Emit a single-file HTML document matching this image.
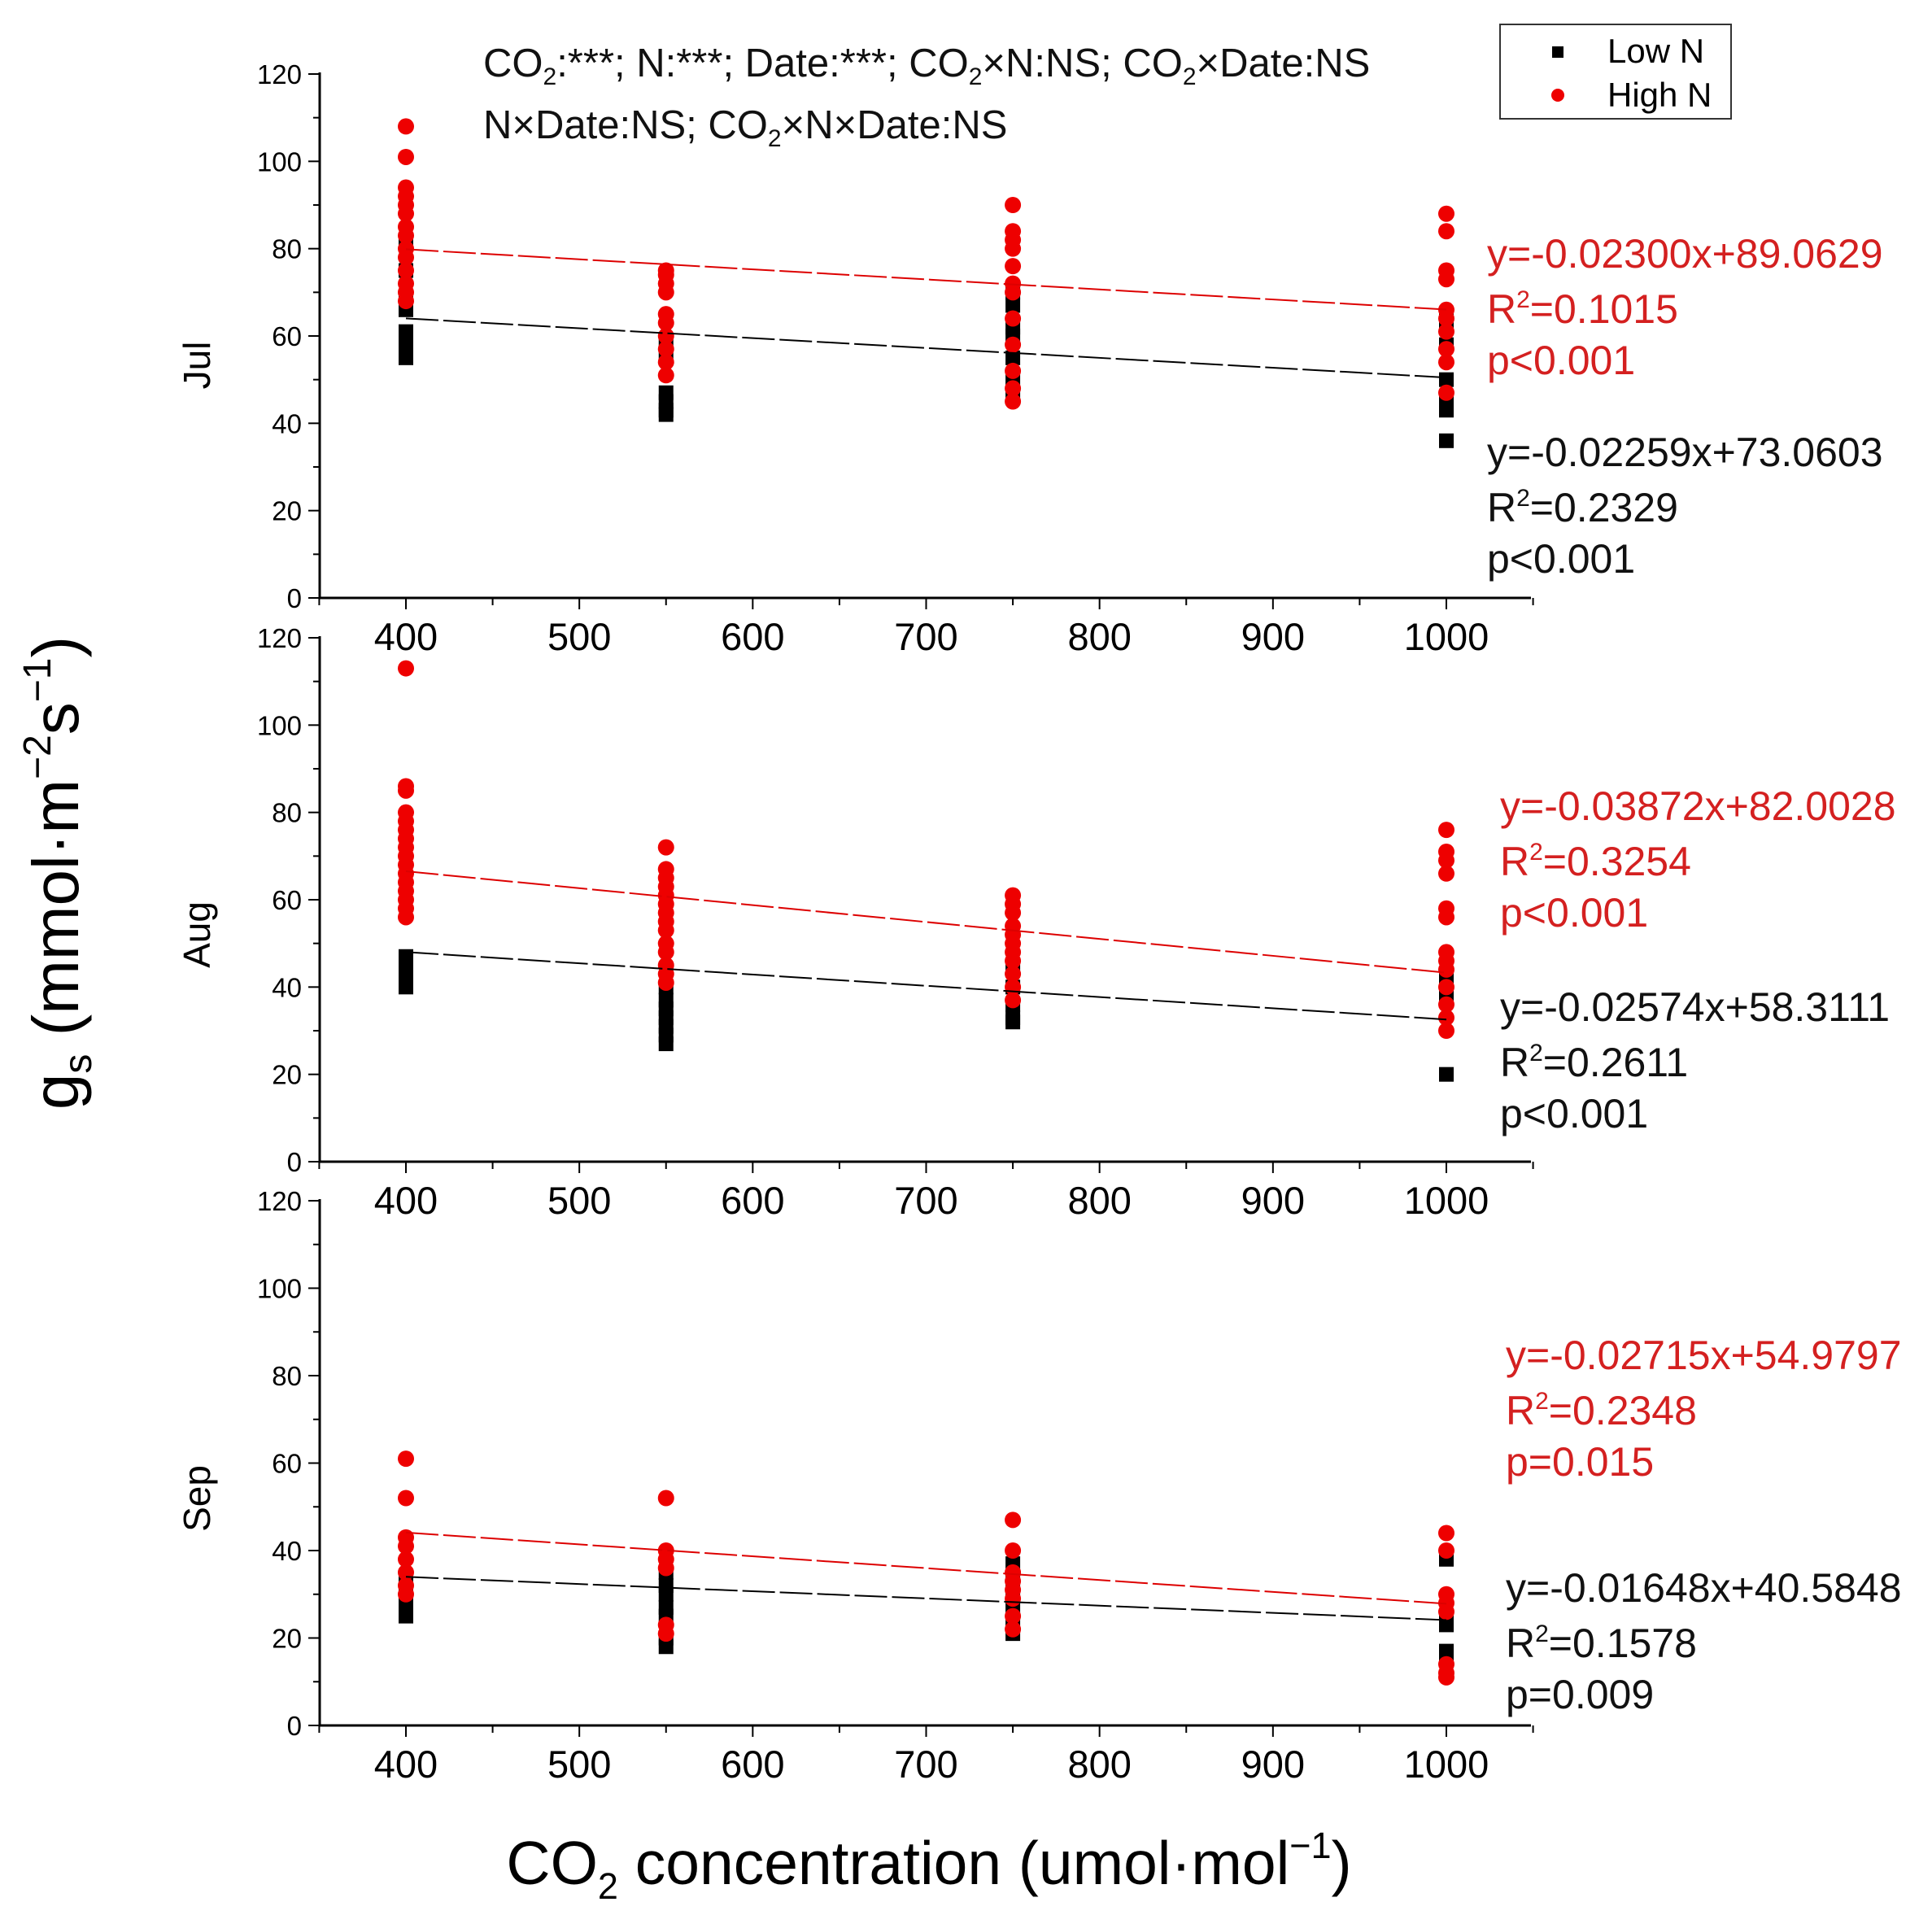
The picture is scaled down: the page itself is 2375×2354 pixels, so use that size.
<!DOCTYPE html>
<html><head><meta charset="utf-8"><style>body{margin:0;background:#fff}svg{display:block}text{font-family:"Liberation Sans",sans-serif}</style></head>
<body>
<svg id="c" width="2375" height="2354" viewBox="0 0 2375 2354" xmlns="http://www.w3.org/2000/svg">
<g font-size="49" fill="#111">
<text x="594" y="94">CO<tspan font-size="30" dy="10">2</tspan><tspan dy="-10">:***; N:***; Date:***; CO</tspan><tspan font-size="30" dy="10">2</tspan><tspan dy="-10">×N:NS; CO</tspan><tspan font-size="30" dy="10">2</tspan><tspan dy="-10">×Date:NS</tspan></text>
<text x="594" y="170">N×Date:NS; CO<tspan font-size="30" dy="10">2</tspan><tspan dy="-10">×N×Date:NS</tspan></text>
</g>
<g>
<rect x="1844" y="30" width="284" height="116" fill="#fff" stroke="#333" stroke-width="2"/>
<rect x="1908" y="57" width="14" height="14" fill="#000"/>
<text x="1976" y="77" font-size="42">Low N</text>
<circle cx="1915" cy="117" r="8" fill="#e00"/>
<text x="1976" y="131" font-size="42">High N</text>
</g>
<text transform="translate(96,1073) rotate(-90)" text-anchor="middle" font-size="80">g<tspan font-size="48" dy="16">s</tspan><tspan dy="-16"> (mmol·m</tspan><tspan font-size="48" dy="-34">−2</tspan><tspan dy="34">s</tspan><tspan font-size="48" dy="-34">−1</tspan><tspan dy="34">)</tspan></text>
<text x="1142" y="2316" text-anchor="middle" font-size="75">CO<tspan font-size="45" dy="18">2</tspan><tspan dy="-18"> concentration (umol·mol</tspan><tspan font-size="45" dy="-32">−1</tspan><tspan dy="32">)</tspan></text>
</svg>
<script>
const months = ["Jul","Aug","Sep"];
const co2Levels = [400,550,750,1000];
const xTicks = [400,500,600,700,800,900,1000];
const yTicks = [0,20,40,60,80,100,120];
const julHigh = [[108,101,94,92,90,88,85,83,80,78,75,72,70,68],[75,74,72,70,65,63,60,57,54,51],[90,84,82,80,76,72,70,64,58,52,48,45],[88,84,75,73,66,64,61,57,54,47]];
const julLow = [[82,75,68,66,61,59,57,55],[58,55,47,45,43,42],[70,67,62,60,55,50,46],[65,62,58,50,46,43,36]];
const augHigh = [[113,86,85,80,78,76,74,72,70,68,66,64,62,60,58,56],[72,67,65,63,61,59,57,55,53,50,48,45,43,41],[61,59,57,54,52,50,48,46,43,40,37],[76,71,69,66,58,56,48,46,44,40,36,33,30]];
const augLow = [[47,45,43,41,40],[40,37,35,33,31,29,27],[45,40,36,33,32],[42,40,38,20]];
const sepHigh = [[61,52,43,41,38,35,32,30],[52,40,38,36,23,21],[47,40,35,33,31,29,25,22],[44,40,30,28,26,14,12,11]];
const sepLow = [[34,30,28,26,25],[35,32,30,27,25,20,18],[37,33,30,27,24,21],[38,25,23,17,15]];
const highSlope = [-0.02300,-0.03872,-0.02715];
const highIntercept = [89.0629,82.0028,54.9797];
const lowSlope = [-0.02259,-0.02574,-0.01648];
const lowIntercept = [73.0603,58.3111,40.5848];
const highEq = [["y=-0.02300x+89.0629","0.1015","p<0.001"],["y=-0.03872x+82.0028","0.3254","p<0.001"],["y=-0.02715x+54.9797","0.2348","p=0.015"]];
const lowEq = [["y=-0.02259x+73.0603","0.2329","p<0.001"],["y=-0.02574x+58.3111","0.2611","p<0.001"],["y=-0.01648x+40.5848","0.1578","p=0.009"]];
const highSets=[julHigh,augHigh,sepHigh], lowSets=[julLow,augLow,sepLow];

const NS="http://www.w3.org/2000/svg", svg=document.getElementById('c');
function mk(t,a,p){const e=document.createElementNS(NS,t);for(const k in a)e.setAttribute(k,a[k]);(p||svg).appendChild(e);return e;}
const X0=393,X1=1882;
function xs(v){return 499+(v-400)*(1778-499)/600;}
const panelY0=[735,1428,2121], panelTop=[91,784,1476];
const eqX=[1828,1844,1851], highEqY=[312,991,1666], lowEqY=[556,1238,1952];
const monthY=[449,1149,1842];
months.forEach((m,i)=>{
  const y0=panelY0[i], yt=panelTop[i];
  const ys=v=>y0-(v/120)*(y0-yt);
  const g=mk('g',{});
  
  
  const ax=mk('line',{x1:X0,y1:y0,x2:X1,y2:y0,stroke:'#000','stroke-width':3},g);
  
  const ay=mk('line',{x1:X0,y1:y0,x2:X0,y2:yt-2,stroke:'#000','stroke-width':3},g);
  
  for(let v=0;v<=120;v+=10){mk('line',{x1:X0,y1:ys(v),x2:X0-(v%20?8:14),y2:ys(v),stroke:'#000','stroke-width':2},g);}
  yTicks.forEach(v=>{const t=mk('text',{x:X0-22,y:ys(v)+12,'text-anchor':'end','font-size':33},g);t.textContent=v;
    });
  for(let v=350;v<=1050;v+=50){mk('line',{x1:xs(v),y1:y0,x2:xs(v),y2:y0+(v%100?9:14),stroke:'#000','stroke-width':2},g);}
  xTicks.forEach(v=>{const t=mk('text',{x:xs(v),y:y0+64,'text-anchor':'middle','font-size':47},g);t.textContent=v;
    });
  const ml=mk('text',{transform:`translate(258,${monthY[i]}) rotate(-90)`,'text-anchor':'middle','font-size':46},g);ml.textContent=m;
  
  co2Levels.forEach((c,j)=>{
    lowSets[i][j].forEach(v=>{const r=mk('rect',{x:xs(c)-9,y:ys(v)-9,width:18,height:18,fill:'#000'},g);
      });
  });
  co2Levels.forEach((c,j)=>{
    highSets[i][j].forEach(v=>{const r=mk('circle',{cx:xs(c),cy:ys(v),r:10,fill:'#e00'},g);
      });
  });
  const lf=mk('line',{x1:xs(400),y1:ys(lowSlope[i]*400+lowIntercept[i]),x2:xs(1000),y2:ys(lowSlope[i]*1000+lowIntercept[i]),stroke:'#000','stroke-width':2,'stroke-dasharray':'40 6'},g);
  
  const hf=mk('line',{x1:xs(400),y1:ys(highSlope[i]*400+highIntercept[i]),x2:xs(1000),y2:ys(highSlope[i]*1000+highIntercept[i]),stroke:'#d00','stroke-width':2,'stroke-dasharray':'40 6'},g);
  
  [[highEq[i],highEqY[i],'#d42020','high-n-equation'],[lowEq[i],lowEqY[i],'#111','low-n-equation']].forEach(([eq,yy,col,nm])=>{
    const t=mk('text',{x:eqX[i],y:yy+17,'font-size':50,fill:col},g);
    
    const a=mk('tspan',{x:eqX[i]},t);a.textContent=eq[0];
    const b=mk('tspan',{x:eqX[i],dy:68},t);b.textContent='R';
    const b2=mk('tspan',{'font-size':30,dy:-19},t);b2.textContent='2';
    const b3=mk('tspan',{dy:19},t);b3.textContent='='+eq[1];
    const c=mk('tspan',{x:eqX[i],dy:63},t);c.textContent=eq[2];
  });
});
</script>
</body></html>
